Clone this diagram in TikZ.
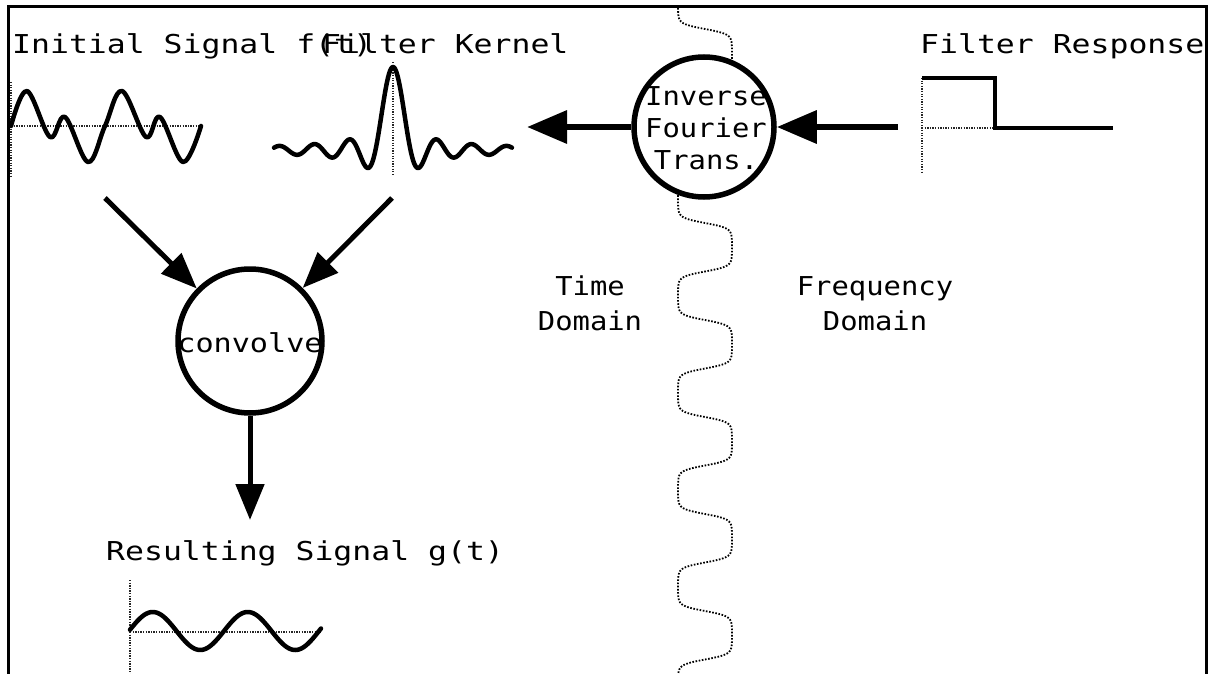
\documentclass[tikz,border=0pt]{standalone}
\usepackage{fontspec}
\usetikzlibrary{arrows.meta}
\newfontfamily\titlefont[FakeStretch=1.21]{DejaVu Sans Mono}
\newfontfamily\midfont[FakeStretch=1.11]{DejaVu Sans Mono}
\newfontfamily\convfont[FakeStretch=1.16]{DejaVu Sans Mono}
\tikzset{
  axisln/.style={line width=1.4pt, dash pattern=on 1.3pt off 1.3pt, black!85},
  sig/.style={line width=4.5pt, line join=round, line cap=round},
  circnode/.style={circle, draw, line width=5.5pt, fill=white, inner sep=0pt},
  arrA/.style={line width=5pt, -{Triangle[length=36pt,width=28pt]}},
  arrB/.style={line width=6.5pt, -{Triangle[length=40pt,width=32pt]}},
  waveln/.style={line width=1.8pt, dash pattern=on 1.6pt off 1.6pt, black},
  lbl/.style={inner sep=0pt, anchor=base west, font=\titlefont\fontsize{26}{32}\selectfont},
  midlbl/.style={inner sep=0pt, anchor=base, font=\midfont\fontsize{26}{32}\selectfont},
}
\begin{document}
\begin{tikzpicture}[x=1pt,y=-1pt]
\useasboundingbox (0,0) rectangle (1210,674);
\fill[white] (0,0) rectangle (1210,674);

% wavy divider
\draw[waveln] plot[domain=8:674, samples=700, variable=\t]
  ({705+27*tanh(3*sin(3.71134*(\t-29)))/tanh(3)}, {\t});

% circles
\node[circnode, minimum size=140pt] (ift) at (704,127) {};
\node[midlbl, anchor=center, align=center] (iftt) at (706,128) {Inverse\\Fourier\\Trans.};
\node[circnode, minimum size=144pt] (conv) at (250,341) {};
\node[inner sep=0pt, font=\convfont\fontsize{26}{32}\selectfont] (convt) at (250,343) {convolve};

% initial signal plot
\draw[axisln] (11,82) -- (11,176);
\draw[axisln] (11,126) -- (203,126);
\draw[sig] plot[smooth, tension=0.6] coordinates {(11,126) (27,91) (50,137) (65,117) (88,162) (105,126) (122,91) (146,137) (160,117) (183,162) (201,126)};

% filter kernel plot
\draw[axisln] (393,62) -- (393,174);
\draw[sig] plot[domain=-6.8:6.8, samples=300, variable=\x]
  ({393+17.5*\x}, {150-83*sin(180*\x)/(3.14159*\x)});

% filter response plot
\draw[axisln] (922,78) -- (922,174);
\draw[axisln] (922,128) -- (995,128);
\draw[sig, line cap=butt, line join=miter] (922,78) -- (995,78) -- (995,128) -- (1113,128);

% resulting signal plot
\draw[axisln] (130,580) -- (130,674);
\draw[axisln] (130,632) -- (322,632);
\draw[sig] plot[domain=130:321, samples=120, variable=\x]
  ({\x}, {631-19*sin(3.78947*(\x-129))});

% connectors
\coordinate (tipL) at (527,127);
\coordinate (tailR) at (898,127);
\coordinate (inL) at (105,198);
\coordinate (inR) at (392,198);
\coordinate (outD) at (250,520);
\draw[arrB] (ift) -- (tipL);
\draw[arrB] (tailR) -- (ift);
\draw[arrA] (inL) -- (conv);
\draw[arrA] (inR) -- (conv);
\draw[arrA] (conv) -- (outD);

% labels
\node[lbl] (t1) at (12,54) {Initial Signal f(t)};
\node[lbl] (t2) at (322,54) {Filter Kernel};
\node[lbl] (t3) at (920,54) {Filter Response};
\node[lbl] (t4) at (106,560) {Resulting Signal g(t)};
\node[midlbl] (d1) at (590,295) {Time};
\node[midlbl] (d2) at (590,330) {Domain};
\node[midlbl] (d3) at (875,295) {Frequency};
\node[midlbl] (d4) at (875,330) {Domain};

% frame
\draw[line width=3pt] (8,674) -- (8,7) -- (1206,7) -- (1206,674);
\end{tikzpicture}
\end{document}
